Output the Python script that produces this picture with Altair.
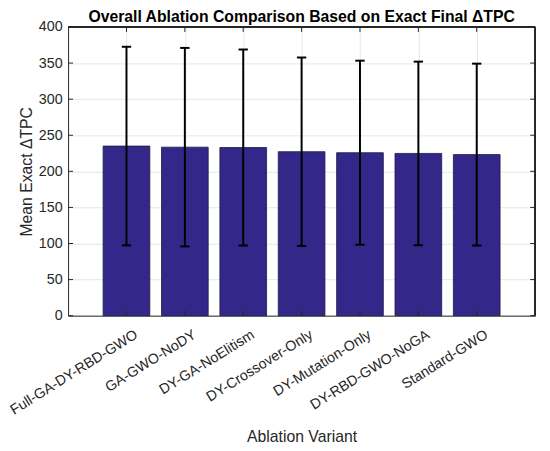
import altair as alt
import pandas as pd

variants = ["Full-GA-DY-RBD-GWO", "GA-GWO-NoDY", "DY-GA-NoElitism", "DY-Crossover-Only",
            "DY-Mutation-Only", "DY-RBD-GWO-NoGA", "Standard-GWO"]
means = [235.0, 233.5, 233.0, 227.2, 225.8, 224.8, 223.2]
stds = [137.6, 137.5, 135.8, 130.5, 127.5, 127.2, 126.0]
y_ticks = [0, 50, 100, 150, 200, 250, 300, 350, 400]

df = pd.DataFrame({"variant": variants, "idx": list(range(1, 8)), "mean": means, "std": stds})
ydf = pd.DataFrame({"v": y_ticks})

FONT = "Liberation Sans"
W, H = 474, 293
TXT = "#262626"
xscale = alt.Scale(domain=[0, 8], nice=False, zero=False)
yscale = alt.Scale(domain=[0, 400], nice=False)

label_expr = "[''," + ",".join("'%s'" % v for v in variants) + ",''][datum.value]"

x_axis = alt.Axis(values=[1, 2, 3, 4, 5, 6, 7], labelExpr=label_expr, labelAngle=-32,
                  labelAlign="right", labelBaseline="top", title="Ablation Variant",
                  titlePadding=12, labelPadding=12, labelOffset=6, ticks=False,
                  domainColor=TXT, grid=True, gridColor="#e6e6e6",
                  labelFontSize=14.5, titleFontSize=16, labelColor=TXT,
                  titleColor=TXT, titleFontWeight="normal", labelFont=FONT,
                  titleFont=FONT, labelOverlap=False, labelFlush=False)
y_axis = alt.Axis(values=y_ticks, title="Mean Exact ΔTPC",
                  titlePadding=4, ticks=False, domainColor=TXT,
                  grid=True, gridColor="#e6e6e6", labelFontSize=14.5, titleFontSize=16,
                  labelColor=TXT, titleColor=TXT, titleFontWeight="normal",
                  labelFont=FONT, titleFont=FONT, labelPadding=6,
                  labelOverlap=False, labelFlush=False)

base = alt.Chart(df)

bars = base.transform_calculate(
    x0="datum.idx - 0.4", x1="datum.idx + 0.4", zero="0"
).mark_bar(color="#33288a", stroke="#1a1a40", strokeWidth=0.8).encode(
    x=alt.X("x0:Q", scale=xscale, axis=x_axis),
    x2="x1:Q",
    y=alt.Y("mean:Q", scale=yscale, axis=y_axis),
    y2="zero:Q",
)

err = base.transform_calculate(
    lo="datum.mean - datum.std", hi="datum.mean + datum.std"
).mark_rule(color="black", strokeWidth=2).encode(
    x=alt.X("idx:Q", scale=xscale, axis=x_axis),
    y=alt.Y("lo:Q", scale=yscale, axis=y_axis), y2="hi:Q"
)

cap_hi = base.transform_calculate(
    c0="datum.idx - 0.08", c1="datum.idx + 0.08", hi="datum.mean + datum.std"
).mark_rule(color="black", strokeWidth=2).encode(
    x=alt.X("c0:Q", scale=xscale, axis=x_axis), x2="c1:Q",
    y=alt.Y("hi:Q", scale=yscale, axis=y_axis)
)
cap_lo = base.transform_calculate(
    c0="datum.idx - 0.08", c1="datum.idx + 0.08", lo="datum.mean - datum.std"
).mark_rule(color="black", strokeWidth=2).encode(
    x=alt.X("c0:Q", scale=xscale, axis=x_axis), x2="c1:Q",
    y=alt.Y("lo:Q", scale=yscale, axis=y_axis)
)

# inward tick marks (MATLAB style)
xt_bot = base.mark_rule(color=TXT, strokeWidth=1).encode(
    x=alt.X("idx:Q", scale=xscale, axis=x_axis), y=alt.value(H), y2=alt.value(H - 5))
xt_top = base.mark_rule(color=TXT, strokeWidth=1).encode(
    x=alt.X("idx:Q", scale=xscale, axis=x_axis), y=alt.value(0), y2=alt.value(5))
yt_left = alt.Chart(ydf).mark_rule(color=TXT, strokeWidth=1).encode(
    y=alt.Y("v:Q", scale=yscale, axis=y_axis), x=alt.value(0), x2=alt.value(5))
yt_right = alt.Chart(ydf).mark_rule(color=TXT, strokeWidth=1).encode(
    y=alt.Y("v:Q", scale=yscale, axis=y_axis), x=alt.value(W), x2=alt.value(W - 5))

# top and right box edges
top_edge = base.mark_rule(color=TXT, strokeWidth=1).encode(
    x=alt.value(0), x2=alt.value(W), y=alt.value(0))
right_edge = base.mark_rule(color=TXT, strokeWidth=1).encode(
    x=alt.value(W), y=alt.value(0), y2=alt.value(H))

chart = alt.layer(bars, err, cap_hi, cap_lo, xt_bot, xt_top, yt_left, yt_right,
                  top_edge, right_edge).properties(
    width=W, height=H,
    title=alt.TitleParams("Overall Ablation Comparison Based on Exact Final ΔTPC",
                          font=FONT, fontSize=16, fontWeight="bold", color="black",
                          anchor="middle", offset=-6),
    autosize=alt.AutoSizeParams(type="none"),
    padding={"left": 61, "top": 16, "right": 7, "bottom": 128},
).configure_view(stroke=None).configure_axis(gridWidth=1)

chart.save("out.html", embed_options={"renderer": "svg", "actions": False})
